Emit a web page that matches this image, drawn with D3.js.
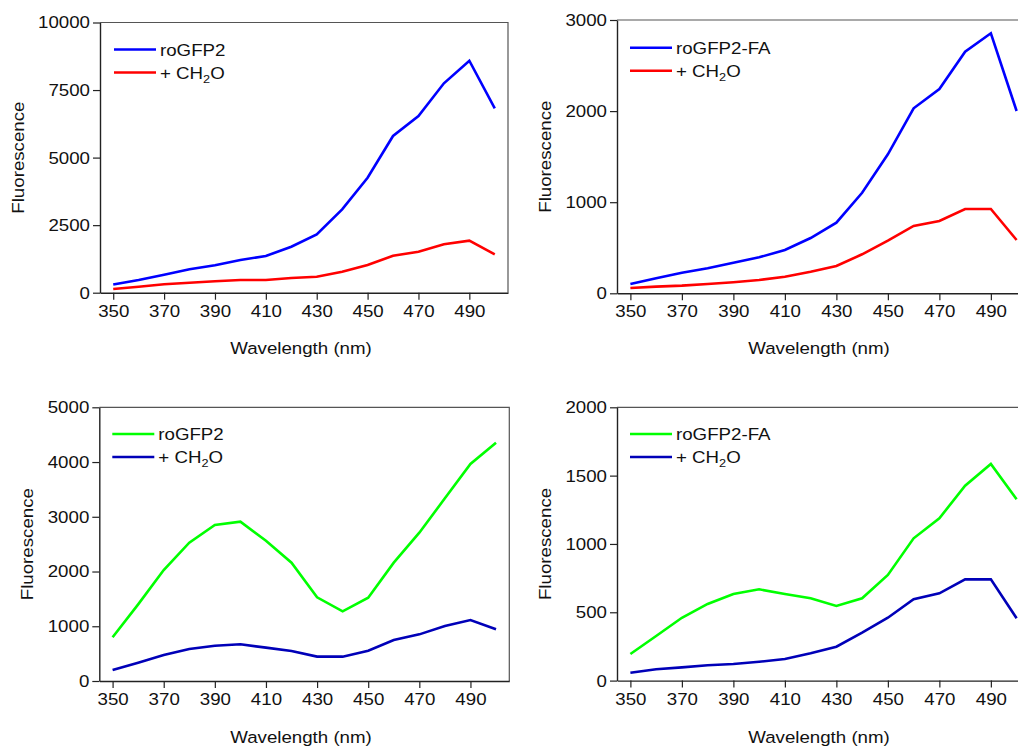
<!DOCTYPE html>
<html>
<head>
<meta charset="utf-8">
<script src="https://cdn.jsdelivr.net/npm/d3@7"></script>
<style>
  html, body { margin: 0; padding: 0; background: #fff; }
  svg { display: block; }
  text { font-family: "Liberation Sans", Arial, sans-serif; fill: #111; }
</style>
</head>
<body>
<svg id="fig" width="1018" height="747"></svg>
<script>
// Excitation wavelengths (nm)
const wavelengths = [350, 360, 370, 380, 390, 400, 410, 420, 430, 440, 450, 460, 470, 480, 490, 500];
const xTickValues = [350, 370, 390, 410, 430, 450, 470, 490];

// Panel A: roGFP2 vs + CH2O
const roGFP2_A = [300, 470, 667, 870, 1014, 1210, 1358, 1703, 2161, 3086, 4256, 5800, 6540, 7750, 8586, 6824];
const ch2o_A   = [137, 222, 311, 370, 422, 470, 470, 544, 592, 777, 1025, 1369, 1517, 1791, 1924, 1421];
const yTicks_A = [0, 2500, 5000, 7500, 10000];

// Panel B: roGFP2-FA vs + CH2O
const roGFP2FA_B = [102, 165, 226, 274, 336, 395, 475, 607, 775, 1104, 1526, 2031, 2243, 2652, 2854, 2001];
const ch2o_B     = [58, 73, 84, 102, 121, 146, 182, 237, 300, 428, 577, 739, 794, 925, 925, 585];
const yTicks_B   = [0, 1000, 2000, 3000];

// Panel C: roGFP2 vs + CH2O
const roGFP2_C = [798, 1400, 2028, 2527, 2850, 2910, 2564, 2162, 1529, 1273, 1522, 2162, 2710, 3337, 3964, 4354];
const ch2o_C   = [201, 335, 475, 585, 645, 670, 609, 548, 445, 445, 554, 749, 852, 1005, 1114, 944];
const yTicks_C = [0, 1000, 2000, 3000, 4000, 5000];

// Panel D: roGFP2-FA vs + CH2O
const roGFP2FA_D = [195, 326, 460, 561, 634, 668, 634, 602, 546, 602, 773, 1041, 1188, 1426, 1585, 1327];
const ch2o_D     = [58, 83, 97, 112, 121, 138, 158, 200, 248, 351, 460, 595, 639, 741, 741, 456];
const yTicks_D   = [0, 500, 1000, 1500, 2000];

const xDomain = [344.8, 505.2];
const FONT = 17;
const STRETCH = 1.1;   // glyphs are a little wider than standard Arial

const panels = [
  { left: 100, right: 508, top: 22.5, bottom: 292.7, yMax: 10000, yTicks: yTicks_A,
    series: [{ name: "roGFP2", values: roGFP2_A, color: "#0000ff" },
             { name: "CH2O", values: ch2o_A, color: "#ff0000" }],
    legendX: 114, legendY: 49.5, yTitleX: 18, xTitleX: 301, xTitleY: 348 },
  { left: 617, right: 1030, top: 20, bottom: 293.3, yMax: 3000, yTicks: yTicks_B,
    series: [{ name: "roGFP2-FA", values: roGFP2FA_B, color: "#0000ff" },
             { name: "CH2O", values: ch2o_B, color: "#ff0000" }],
    legendX: 630, legendY: 47.7, yTitleX: 545, xTitleX: 819, xTitleY: 348 },
  { left: 99.3, right: 509.3, top: 407.3, bottom: 681, yMax: 5000, yTicks: yTicks_C,
    series: [{ name: "roGFP2", values: roGFP2_C, color: "#00ff00" },
             { name: "CH2O", values: ch2o_C, color: "#0000b8" }],
    legendX: 112.3, legendY: 434, yTitleX: 27, xTitleX: 301, xTitleY: 737 },
  { left: 617, right: 1030, top: 407.3, bottom: 680.6, yMax: 2000, yTicks: yTicks_D,
    series: [{ name: "roGFP2-FA", values: roGFP2FA_D, color: "#00ff00" },
             { name: "CH2O", values: ch2o_D, color: "#0000b8" }],
    legendX: 630, legendY: 434, yTitleX: 545, xTitleX: 819, xTitleY: 737 }
];

const svg = d3.select("#fig");

panels.forEach(p => {
  const x = d3.scaleLinear().domain(xDomain).range([p.left, p.right]);
  const y = d3.scaleLinear().domain([0, p.yMax]).range([p.bottom, p.top]);
  const g = svg.append("g");

  // frame (top and right)
  g.append("path")
    .attr("d", `M${p.left},${p.top}H${p.right}V${p.bottom}`)
    .attr("fill", "none").attr("stroke", "#555").attr("stroke-width", 1.2);

  // x axis
  const xAxis = d3.axisBottom(x).tickValues(xTickValues).tickFormat(d3.format("d"))
    .tickSize(7).tickPadding(5).tickSizeOuter(0);
  const gx = g.append("g").attr("transform", `translate(0,${p.bottom})`).call(xAxis);
  // y axis
  const yAxis = d3.axisLeft(y).tickValues(p.yTicks).tickFormat(d3.format("d"))
    .tickSize(7).tickPadding(3).tickSizeOuter(0);
  const gy = g.append("g").attr("transform", `translate(${p.left},0)`).call(yAxis);

  [gx, gy].forEach(a => {
    a.select(".domain").attr("stroke", "#222").attr("stroke-width", 1.4);
    a.selectAll(".tick line").attr("stroke", "#222").attr("stroke-width", 1.2);
    a.selectAll(".tick text")
      .attr("font-size", FONT)
      .attr("font-family", "Liberation Sans, Arial, sans-serif")
      .attr("fill", "#111")
      .attr("transform", `scale(${STRETCH},1)`);
  });
  gy.selectAll(".tick text").attr("x", -10 / STRETCH);

  // lines
  const line = d3.line().x((d, i) => x(wavelengths[i])).y(d => y(d));
  p.series.forEach(s => {
    g.append("path").datum(s.values)
      .attr("d", line)
      .attr("fill", "none")
      .attr("stroke", s.color)
      .attr("stroke-width", 2.6)
      .attr("stroke-linejoin", "miter");
  });

  // legend
  p.series.forEach((s, i) => {
    const ly = p.legendY + i * 23;
    g.append("line")
      .attr("x1", p.legendX).attr("x2", p.legendX + 42)
      .attr("y1", ly).attr("y2", ly)
      .attr("stroke", s.color).attr("stroke-width", 2.6);
    const t = g.append("text")
      .attr("transform", `translate(${p.legendX + 46},${ly + 6.2}) scale(${STRETCH},1)`)
      .attr("font-size", FONT);
    if (s.name === "CH2O") {
      t.append("tspan").text("+ CH");
      t.append("tspan").text("2").attr("font-size", FONT * 0.68).attr("dy", 4);
      t.append("tspan").text("O").attr("dy", -4);
    } else {
      t.text(s.name);
    }
  });

  // axis titles
  g.append("text")
    .attr("transform", `translate(${p.yTitleX},${(p.top + p.bottom) / 2}) rotate(-90) scale(${STRETCH},1)`)
    .attr("text-anchor", "middle").attr("dy", "0.35em")
    .attr("font-size", FONT)
    .text("Fluorescence");
  g.append("text")
    .attr("transform", `translate(${p.xTitleX},${p.xTitleY}) scale(${STRETCH},1)`)
    .attr("text-anchor", "middle").attr("dy", "0.35em")
    .attr("font-size", FONT)
    .text("Wavelength (nm)");
});
</script>
</body>
</html>
